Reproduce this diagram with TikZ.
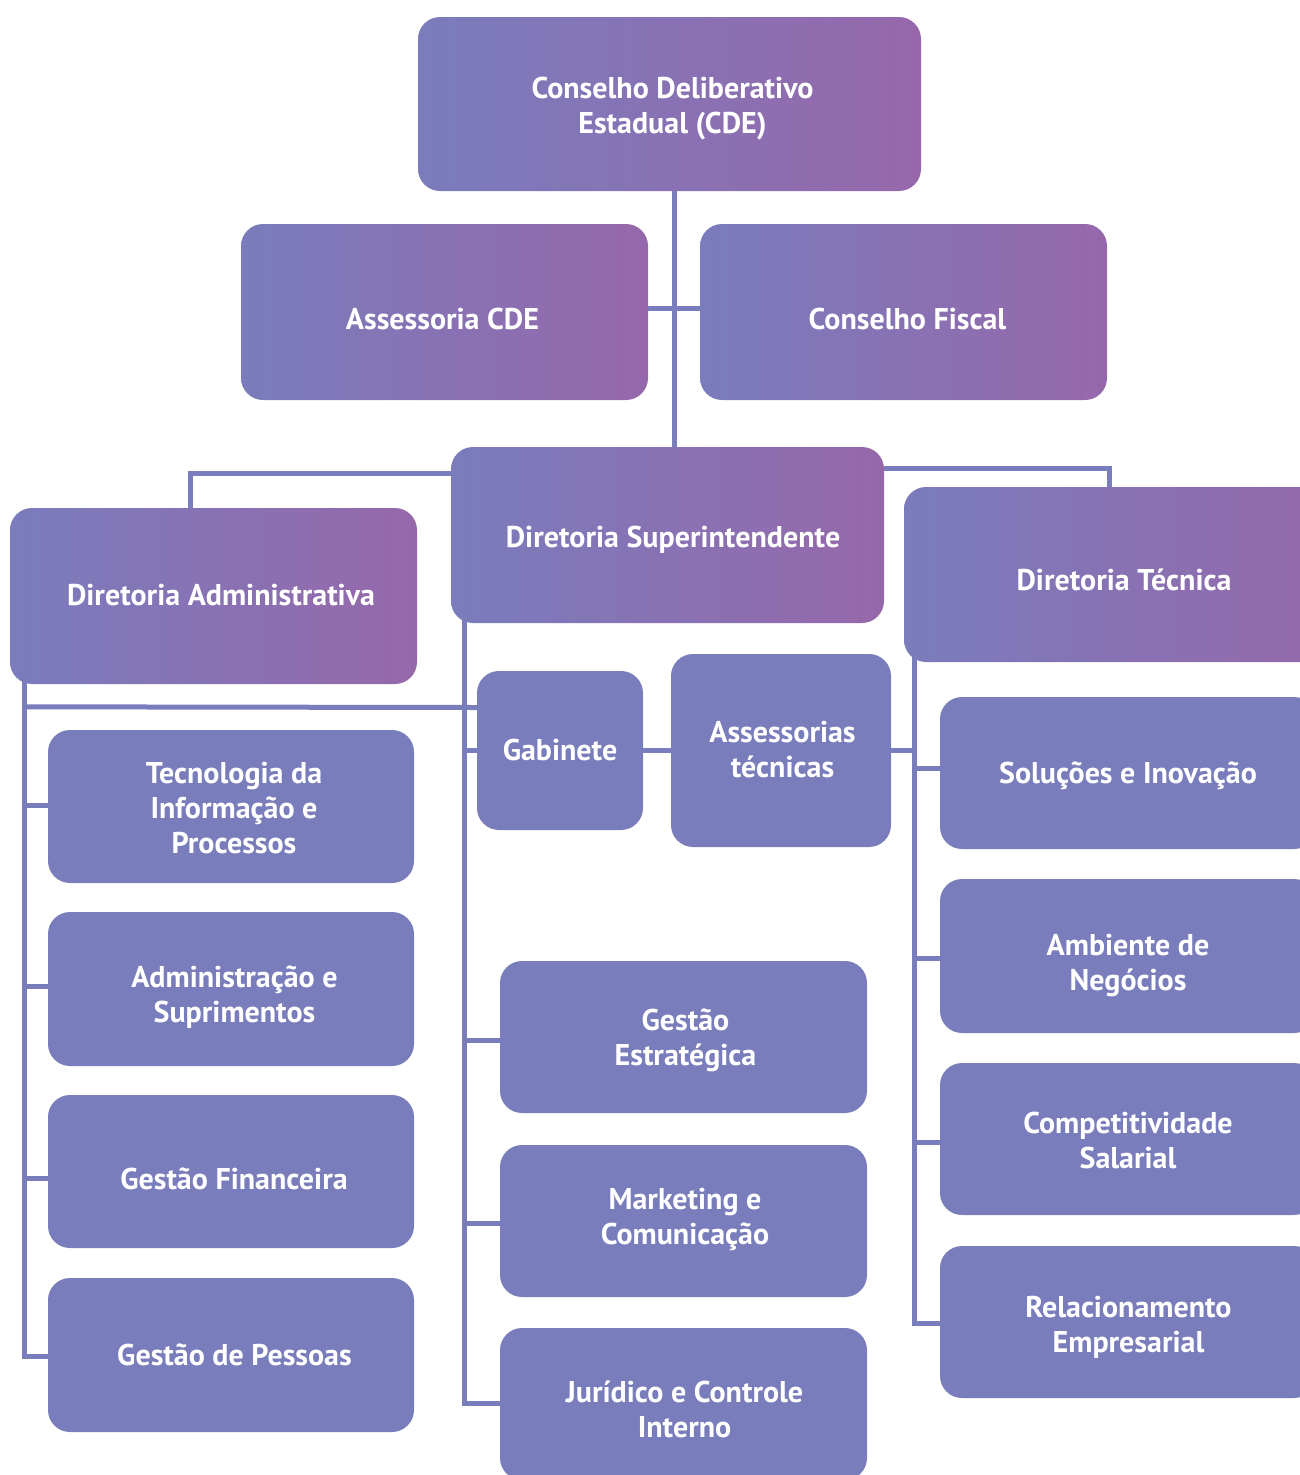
\documentclass[tikz,border=0pt]{standalone}
\usepackage{fontspec}
\setmainfont{PT Sans}
\usetikzlibrary{backgrounds}
\definecolor{plain}{HTML}{7A7DBB}
\definecolor{gL}{HTML}{7A7CBC}
\definecolor{gR}{HTML}{9668AB}
\definecolor{lineC}{HTML}{7A7DBB}
\tikzset{
  box/.style={rounded corners=22pt, inner sep=0pt},
  plainbox/.style={box, fill=plain},
  gradbox/.style={box, left color=gL, right color=gR},
  lbl/.style={inner sep=0pt, align=center, text=white,
    font=\fontsize{30}{35}\selectfont\bfseries},
  conn/.style={draw=lineC, line width=5pt},
}
\begin{document}
\begin{tikzpicture}[x=1pt,y=-1pt]
\useasboundingbox (0,0) rectangle (1299,1475);
% top level boxes
\node[gradbox, minimum width=503pt, minimum height=174pt] (cde) at (669.5,104) {};
\node[gradbox, minimum width=407pt, minimum height=176pt] (acde) at (444.5,312) {};
\node[gradbox, minimum width=407pt, minimum height=176pt] (cf) at (903.5,312) {};
\node[gradbox, minimum width=433pt, minimum height=176pt] (sup) at (667.5,535) {};
\node[gradbox, minimum width=407pt, minimum height=176pt] (adm) at (213.5,596) {};
\node[gradbox, minimum width=440pt, minimum height=175pt] (tec) at (1124,574.5) {};
% middle
\node[plainbox, minimum width=166pt, minimum height=159pt] (gab) at (560,750.5) {};
\node[plainbox, minimum width=220pt, minimum height=193pt] (ast) at (781,750.5) {};
% left column
\node[plainbox, minimum width=366pt, minimum height=153pt] (ti) at (231,806.5) {};
\node[plainbox, minimum width=366pt, minimum height=154pt] (as) at (231,989) {};
\node[plainbox, minimum width=366pt, minimum height=153pt] (gf) at (231,1171.5) {};
\node[plainbox, minimum width=366pt, minimum height=154pt] (gp) at (231,1355) {};
% middle column
\node[plainbox, minimum width=367pt, minimum height=152pt] (ge) at (683.5,1037) {};
\node[plainbox, minimum width=367pt, minimum height=152pt] (mk) at (683.5,1221) {};
\node[plainbox, minimum width=367pt, minimum height=152pt] (jc) at (683.5,1404) {};
% right column
\node[plainbox, minimum width=376pt, minimum height=152pt] (si) at (1128,773) {};
\node[plainbox, minimum width=376pt, minimum height=154pt] (an) at (1128,956) {};
\node[plainbox, minimum width=376pt, minimum height=152pt] (cs) at (1128,1139) {};
\node[plainbox, minimum width=376pt, minimum height=152pt] (re) at (1128,1322) {};
% labels
\node[lbl] (cde-t) at (672.5,109) {Conselho Deliberativo\\Estadual (CDE)};
\node[lbl] (acde-t) at (442.5,319) {Assessoria CDE};
\node[lbl] (cf-t) at (907.5,319) {Conselho Fiscal};
\node[lbl] (sup-t) at (673,539.5) {Diretoria Superintendente};
\node[lbl] (adm-t) at (221,595) {Diretoria Administrativa};
\node[lbl] (tec-t) at (1124,579.5) {Diretoria Técnica};
\node[lbl] (gab-t) at (560,749.5) {Gabinete};
\node[lbl] (ast-t) at (782.5,749.5) {Assessorias\\técnicas};
\node[lbl] (ti-t) at (234,808.5) {Tecnologia da\\Informação e\\Processos};
\node[lbl] (as-t) at (234.5,997.5) {Administração e\\Suprimentos};
\node[lbl] (gf-t) at (234,1178.5) {Gestão Financeira};
\node[lbl] (gp-t) at (234.5,1354.5) {Gestão de Pessoas};
\node[lbl] (ge-t) at (685.5,1040) {Gestão\\Estratégica};
\node[lbl] (mk-t) at (685,1219) {Marketing e\\Comunicação};
\node[lbl] (jc-t) at (684.5,1409) {Jurídico e Controle\\Interno};
\node[lbl] (si-t) at (1128,776) {Soluções e Inovação};
\node[lbl] (an-t) at (1128,966) {Ambiente de\\Negócios};
\node[lbl] (cs-t) at (1128,1140) {Competitividade\\Salarial};
\node[lbl] (re-t) at (1128.5,1327) {Relacionamento\\Empresarial};
% trunk coordinates
\coordinate (Ltop) at (24,670);
\coordinate (Mtop) at (464,610);
\coordinate (Rtop) at (914,650);
\begin{pgfonlayer}{background}
\draw[conn] ([xshift=4.5pt]cde.south) -- ([xshift=4.5pt]cde.south |- sup.north);
\draw[conn] ([yshift=4pt]acde.east) -- ([yshift=4pt]cf.west);
\draw[conn] ([yshift=-27pt]sup.north west) -| ([xshift=-23pt]adm.north);
\draw[conn] ([yshift=-22pt]sup.north east) -| ([xshift=-15pt]tec.north);
% left trunk
\draw[conn] (Ltop) |- ([yshift=1.5pt]ti.west);
\draw[conn] (Ltop) |- ([yshift=3pt]as.west);
\draw[conn] (Ltop) |- ([yshift=-6.5pt]gf.west);
\draw[conn] (Ltop) |- ([yshift=-1pt]gp.west);
\draw[conn] (Ltop |- gab.north) ++(0,36) -- ([yshift=43pt]gab.west);
% middle trunk
\draw[conn] (Mtop) |- (gab.west);
\draw[conn] (Mtop) |- ([yshift=-3pt]ge.west);
\draw[conn] (Mtop) |- ([yshift=-2pt]mk.west);
\draw[conn] (Mtop) |- ([yshift=1pt]jc.west);
\draw[conn] (gab.east) -- (ast.west);
% right trunk
\draw[conn] (Rtop) |- (ast.east);
\draw[conn] (Rtop) |- ([yshift=5pt]si.west);
\draw[conn] (Rtop) |- ([yshift=-2pt]an.west);
\draw[conn] (Rtop) |- ([yshift=-3pt]cs.west);
\draw[conn] (Rtop) |- ([yshift=-1pt]re.west);
\end{pgfonlayer}
\end{tikzpicture}
\end{document}
